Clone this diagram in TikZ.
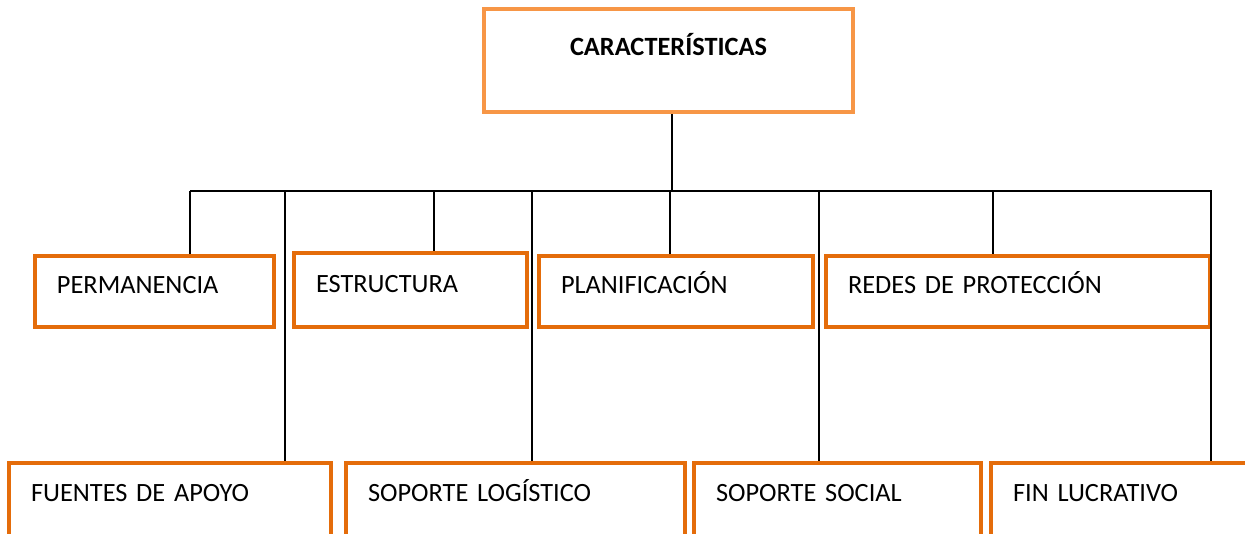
\documentclass[tikz,border=0pt]{standalone}
\usepackage{fontspec}
\setmainfont{Carlito}
\usepackage{tikz}
\usetikzlibrary{positioning}

\definecolor{naranjaclaro}{RGB}{247,150,70}
\definecolor{naranja}{RGB}{228,108,10}

\begin{document}
\begin{tikzpicture}[line width=1.1pt,
                    raiz/.style={draw=naranjaclaro,line width=2.8pt,minimum width=7.38cm,
                                 minimum height=2.06cm,text height=0.34cm,text depth=0.54cm,
                                 font=\fontsize{15}{18}\selectfont\bfseries},
                    hoja/.style={draw=naranja,line width=2pt,inner xsep=0.44cm,align=left,
                                 text height=0.34cm,text depth=0.26cm,
                                 minimum height=1.42cm,font=\fontsize{15}{18}\selectfont}]
  \tikzstyle{abajo}=[hoja,minimum height=1.7cm,text depth=0.5cm]

  \useasboundingbox (0,0) rectangle (24.9,-10.68);
  \clip (0,0) rectangle (24.9,-10.68);

  \node[raiz] (car) at (13.37,-1.21) {CARACTERÍSTICAS};

  % primera fila
  \node[hoja,text width=3.90cm] (perm)  at (3.09,-5.83)  {PERMANENCIA};
  \node[hoja,text width=3.78cm,minimum height=1.48cm] (estr) at (8.21,-5.80) {ESTRUCTURA};
  \node[hoja,text width=4.60cm] (plan)  at (13.52,-5.83) {PLANIFICACIÓN};
  \node[hoja,text width=6.80cm] (redes) at (20.36,-5.83) {REDES DE PROTECCIÓN};

  % segunda fila
  \node[abajo,text width=5.56cm] (fuen) at (3.40,-10.11)  {FUENTES DE APOYO};
  \node[abajo,text width=5.90cm] (logi) at (10.31,-10.11) {SOPORTE LOGÍSTICO};
  \node[abajo,text width=4.86cm] (soci) at (16.75,-10.11) {SOPORTE SOCIAL};
  \node[abajo,text width=4.40cm] (fin)  at (22.46,-10.11) {FIN LUCRATIVO};

  \coordinate (bus) at (3.80,-3.82);
  \coordinate (busfin) at (24.24,-3.82);

  \draw ([xshift=0.07cm]car.south) -- ([xshift=0.07cm]car.south |- bus);
  \draw (bus) -- (busfin);
  \foreach \dx/\n in {0/perm,1.90/fuen,4.88/estr,6.84/logi,9.60/plan,12.58/soci,16.06/redes,20.42/fin}
    \draw ([xshift=\dx cm]bus) -- ([xshift=\dx cm]bus |- \n.north);

\end{tikzpicture}
\end{document}
